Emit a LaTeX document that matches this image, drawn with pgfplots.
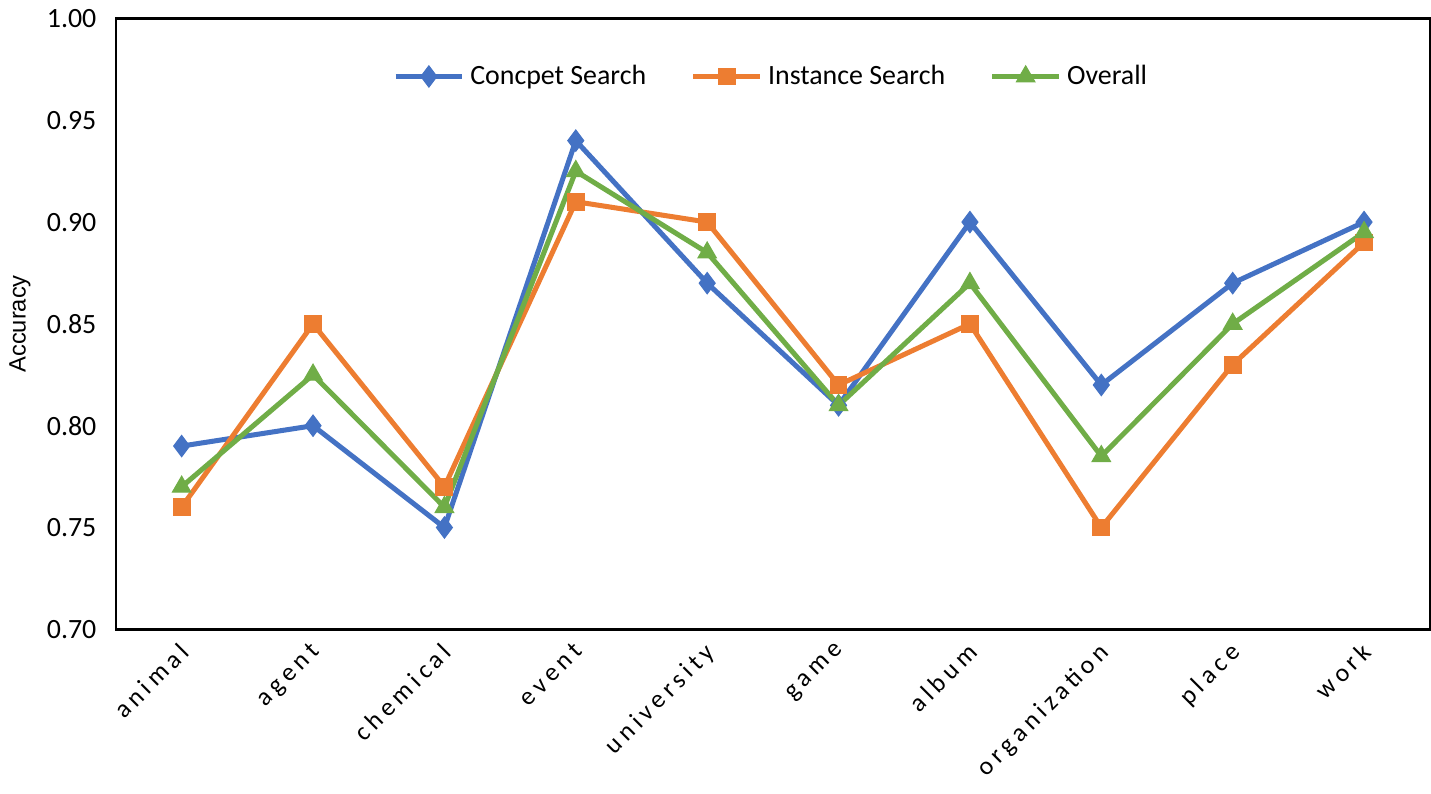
\documentclass[border=0pt]{standalone}
\usepackage{fontspec}
\setmainfont{Carlito}
\newfontfamily\arialfont{Liberation Sans}
\newfontfamily\spaced[LetterSpace=18]{Carlito}
\usepackage{pgfplots}
\pgfplotsset{compat=1.18}
\definecolor{cblue}{HTML}{4472C4}
\definecolor{corange}{HTML}{ED7D31}
\definecolor{cgreen}{HTML}{70AD47}
\begin{document}
\begin{tikzpicture}
\begin{axis}[
  scale only axis, width=471pt, height=219pt,
  xmin=-0.5, xmax=9.5, ymin=0.70, ymax=1.00,
  xtick={0,...,9},
  xticklabels={animal,agent,chemical,event,university,game,album,organization,place,work},
  x tick label style={font=\spaced\fontsize{9.2}{10}\selectfont, rotate=45, anchor=north east, yshift=1.5pt, xshift=-0.5pt},
  ytick={0.70,0.75,...,1.00},
  y tick label style={font=\fontsize{10}{11}\selectfont, xshift=-3.5pt, /pgf/number format/fixed, /pgf/number format/fixed zerofill, /pgf/number format/precision=2},
  /pgf/number format/assume math mode=true,
  major tick length=0pt,
  axis line style={line width=0.9pt},
  ylabel={\arialfont\fontsize{8.5}{9}\selectfont Accuracy},
  ylabel style={yshift=-1pt},
  legend style={draw=none, fill=none, at={(0.5,0.905)}, anchor=center, legend columns=3, font=\fontsize{10}{11}\selectfont, /tikz/every even column/.append style={column sep=14pt}},
  legend image code/.code={\draw[#1, mark repeat=2, mark phase=2] plot coordinates {(0cm,0cm) (0.42cm,0cm) (0.84cm,0cm)};},
  every axis plot/.append style={line width=1.8pt},
]
\addplot[cblue, mark=diamond*, mark size=3.8pt, mark options={solid, line width=0.4pt}] coordinates {
(0,0.79)(1,0.80)(2,0.75)(3,0.94)(4,0.87)(5,0.81)(6,0.90)(7,0.82)(8,0.87)(9,0.90)};
\addplot[corange, mark=square*, mark size=3pt, mark options={solid, line width=0.4pt}] coordinates {
(0,0.76)(1,0.85)(2,0.77)(3,0.91)(4,0.90)(5,0.82)(6,0.85)(7,0.75)(8,0.83)(9,0.89)};
\addplot[cgreen, mark=triangle*, mark size=3.8pt, mark options={solid, line width=0.4pt}] coordinates {
(0,0.77)(1,0.825)(2,0.76)(3,0.925)(4,0.885)(5,0.81)(6,0.87)(7,0.785)(8,0.85)(9,0.895)};
\legend{Concpet Search,Instance Search,Overall}
\end{axis}
\end{tikzpicture}
\end{document}
